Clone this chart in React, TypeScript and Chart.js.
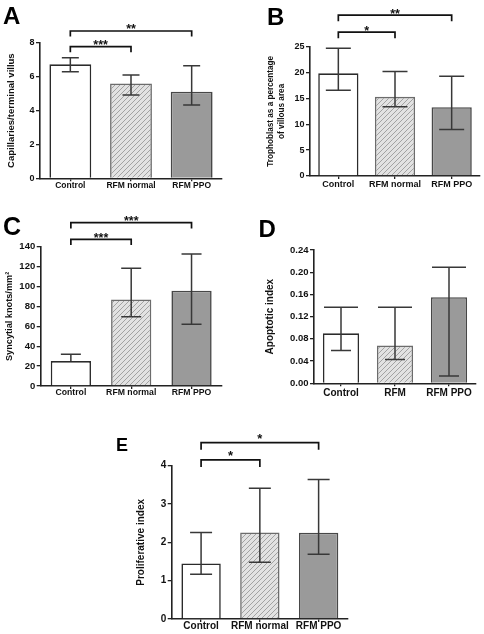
import React, { useEffect, useRef } from 'react';
import { Chart, registerables } from 'chart.js';

Chart.register(...registerables);

const FONT = "'Liberation Sans', Arial, Helvetica, sans-serif";

// ---------- data ----------
const groups = ['Control', 'RFM normal', 'RFM PPO'];
const groupsD = ['Control', 'RFM', 'RFM PPO'];

// A: capillaries / terminal villus
const meanA = [6.74, 5.61, 5.12];
const lowA = [6.3, 4.92, 4.33];
const highA = [7.13, 6.11, 6.65];
const ticksA = [0, 2, 4, 6, 8];
const sigA = [
  { from: 0, to: 1, text: '***', y: 7.78 },
  { from: 0, to: 2, text: '**', y: 8.71 },
];

// B: trophoblast %
const meanB = [19.85, 15.3, 13.3];
const lowB = [16.6, 13.4, 9.0];
const highB = [24.7, 20.2, 19.3];
const ticksB = [0, 5, 10, 15, 20, 25];
const sigB = [
  { from: 0, to: 1, text: '*', y: 27.8 },
  { from: 0, to: 2, text: '**', y: 31.1 },
];

// C: syncytial knots / mm2
const meanC = [25.1, 87.0, 95.8];
const lowC = [25.1, 69.7, 62.0];
const highC = [31.8, 118.3, 132.7];
const ticksC = [0, 20, 40, 60, 80, 100, 120, 140];
const sigC = [
  { from: 0, to: 1, text: '***', y: 147.4 },
  { from: 0, to: 2, text: '***', y: 164.1 },
];

// D: apoptotic index
const meanD = [0.09, 0.068, 0.155];
const lowD = [0.059, 0.043, 0.013];
const highD = [0.137, 0.137, 0.209];
const ticksD = [0, 0.04, 0.08, 0.12, 0.16, 0.2, 0.24];
const sigD: { from: number; to: number; text: string; y: number }[] = [];

// E: proliferative index
const meanE = [1.45, 2.26, 2.25];
const lowE = [1.165, 1.48, 1.69];
const highE = [2.26, 3.41, 3.64];
const ticksE = [0, 1, 2, 3, 4];
const sigE = [
  { from: 0, to: 1, text: '*', y: 4.15 },
  { from: 0, to: 2, text: '*', y: 4.6 },
];

type Sig = { from: number; to: number; text: string; y: number };
type PanelCfg = {
  left: number; top: number; width: number; height: number;
  yw: number; plotTop: number; plotRight: number; xh: number;
  labels: string[]; mean: number[]; low: number[]; high: number[];
  yTicks: number[]; dec: number;
  title: string | string[]; titleSize: number; titleLH: number; titlePad: number;
  xFont: number; yFont: number; xPad: number;
  letter: string; letterX: number; letterY: number; letterSize: number;
  sig: Sig[]; bracketTick: number; starSize: number; starOffset: number;
  capTop: number; capBottom: number; barPct: number;
};

const panels: PanelCfg[] = [
  {
    left: 0, top: 0, width: 242, height: 200,
    yw: 40, plotTop: 43, plotRight: 222, xh: 21.7,
    labels: groups, mean: meanA, low: lowA, high: highA, yTicks: ticksA, dec: 0,
    title: 'Capillaries/terminal villus', titleSize: 9.5, titleLH: 1.2, titlePad: 6,
    xFont: 8.5, yFont: 9, xPad: -1,
    letter: 'A', letterX: 3, letterY: 24, letterSize: 24,
    sig: sigA, bracketTick: 5.5, starSize: 12.5, starOffset: 2,
    capTop: 17, capBottom: 17, barPct: 0.69,
  },
  {
    left: 242, top: 0, width: 242, height: 200,
    yw: 68, plotTop: 46.7, plotRight: 238, xh: 24,
    labels: groups, mean: meanB, low: lowB, high: highB, yTicks: ticksB, dec: 0,
    title: ['Trophoblast as a percentage', 'of villous area'], titleSize: 8.2, titleLH: 1.42, titlePad: 22.5,
    xFont: 9, yFont: 9, xPad: 0,
    letter: 'B', letterX: 25, letterY: 25, letterSize: 24,
    sig: sigB, bracketTick: 6, starSize: 12.5, starOffset: 3,
    capTop: 25, capBottom: 25, barPct: 0.71,
  },
  {
    left: 0, top: 200, width: 242, height: 200,
    yw: 40.7, plotTop: 46.7, plotRight: 221.7, xh: 14,
    labels: groups, mean: meanC, low: lowC, high: highC, yTicks: ticksC, dec: 0,
    title: 'Syncytial knots/mm²', titleSize: 9.2, titleLH: 1.2, titlePad: 4.3,
    xFont: 8.7, yFont: 9.5, xPad: -1.5,
    letter: 'C', letterX: 3, letterY: 35, letterSize: 25,
    sig: sigC, bracketTick: 5.7, starSize: 12.5, starOffset: 2.7,
    capTop: 20, capBottom: 20, barPct: 0.667,
  },
  {
    left: 242, top: 200, width: 242, height: 200,
    yw: 72, plotTop: 50, plotRight: 234, xh: 16.7,
    labels: groupsD, mean: meanD, low: lowD, high: highD, yTicks: ticksD, dec: 2,
    title: 'Apoptotic index', titleSize: 10, titleLH: 1.2, titlePad: 22,
    xFont: 10, yFont: 9.5, xPad: 0.5,
    letter: 'D', letterX: 16.5, letterY: 36.5, letterSize: 24,
    sig: sigD, bracketTick: 6, starSize: 12.5, starOffset: 0,
    capTop: 34, capBottom: 20, barPct: 0.67,
  },
  {
    left: 100, top: 400, width: 300, height: 234,
    yw: 71.7, plotTop: 65.7, plotRight: 248, xh: 15,
    labels: groups, mean: meanE, low: lowE, high: highE, yTicks: ticksE, dec: 0,
    title: 'Proliferative index', titleSize: 10, titleLH: 1.2, titlePad: 35.7,
    xFont: 10, yFont: 10, xPad: -2,
    letter: 'E', letterX: 16, letterY: 51, letterSize: 18,
    sig: sigE, bracketTick: 7, starSize: 13, starOffset: 0.5,
    capTop: 22, capBottom: 22, barPct: 0.67,
  },
];

function makeHatch(ctx: CanvasRenderingContext2D) {
  const c = document.createElement('canvas');
  c.width = 5;
  c.height = 5;
  const g = c.getContext('2d')!;
  g.fillStyle = '#e2e2e2';
  g.fillRect(0, 0, 5, 5);
  g.strokeStyle = '#a2a2a2';
  g.lineWidth = 1;
  g.beginPath();
  g.moveTo(0, 5); g.lineTo(5, 0);
  g.moveTo(-1, 1); g.lineTo(1, -1);
  g.moveTo(4, 6); g.lineTo(6, 4);
  g.stroke();
  return ctx.createPattern(c, 'repeat')!;
}

function Panel({ cfg }: { cfg: PanelCfg }) {
  const ref = useRef<HTMLCanvasElement>(null);
  useEffect(() => {
    const canvas = ref.current!;
    const ctx0 = canvas.getContext('2d')!;
    const hatch = makeHatch(ctx0);
    const decor = {
      id: 'decor' + cfg.letter,
      afterDraw(chart: any) {
        const ctx = chart.ctx as CanvasRenderingContext2D;
        const xs = chart.scales.x;
        const ys = chart.scales.y;
        ctx.save();
        // error bars
        ctx.strokeStyle = '#383838';
        ctx.lineWidth = 1.5;
        cfg.mean.forEach((m, i) => {
          const x = xs.getPixelForValue(i);
          const yh = ys.getPixelForValue(cfg.high[i]);
          const yl = ys.getPixelForValue(cfg.low[i]);
          ctx.beginPath();
          ctx.moveTo(x, yl);
          ctx.lineTo(x, yh);
          ctx.moveTo(x - cfg.capTop / 2, yh);
          ctx.lineTo(x + cfg.capTop / 2, yh);
          if (cfg.low[i] < m) {
            ctx.moveTo(x - cfg.capBottom / 2, yl);
            ctx.lineTo(x + cfg.capBottom / 2, yl);
          }
          ctx.stroke();
        });
        // significance brackets
        ctx.strokeStyle = '#111';
        ctx.lineWidth = 1.7;
        ctx.fillStyle = '#111';
        ctx.font = `bold ${cfg.starSize}px ${FONT}`;
        ctx.textAlign = 'center';
        ctx.textBaseline = 'alphabetic';
        cfg.sig.forEach((b) => {
          const x1 = xs.getPixelForValue(b.from);
          const x2 = xs.getPixelForValue(b.to);
          const y = ys.getPixelForValue(b.y);
          ctx.beginPath();
          ctx.moveTo(x1, y + cfg.bracketTick);
          ctx.lineTo(x1, y);
          ctx.lineTo(x2, y);
          ctx.lineTo(x2, y + cfg.bracketTick);
          ctx.stroke();
          ctx.fillText(b.text, (x1 + x2) / 2, y + cfg.starOffset);
        });
        // panel letter
        ctx.font = `bold ${cfg.letterSize}px ${FONT}`;
        ctx.textAlign = 'left';
        ctx.fillStyle = '#000';
        ctx.fillText(cfg.letter, cfg.letterX, cfg.letterY);
        ctx.restore();
      },
    };
    const last = cfg.yTicks[cfg.yTicks.length - 1];
    const chart = new Chart(canvas, {
      type: 'bar',
      data: {
        labels: cfg.labels,
        datasets: [
          {
            data: cfg.mean,
            backgroundColor: ['#ffffff', hatch as any, '#9a9a9a'],
            borderColor: ['#2b2b2b', '#6c6c6c', '#474747'],
            borderWidth: 1.6,
            barPercentage: cfg.barPct,
            categoryPercentage: 1,
          },
        ],
      },
      options: {
        responsive: false,
        animation: false,
        layout: { padding: { left: 0, top: cfg.plotTop, right: cfg.width - cfg.plotRight, bottom: 0 } },
        plugins: { legend: { display: false }, tooltip: { enabled: false } },
        scales: {
          x: {
            grid: { display: true, drawOnChartArea: false, drawTicks: true, tickLength: 3, offset: false, color: '#222', lineWidth: 1.3 },
            border: { display: true, color: '#222', width: 1.6 },
            ticks: { font: { family: FONT, weight: 'bold', size: cfg.xFont }, color: '#111', padding: cfg.xPad, maxRotation: 0, autoSkip: false },
            afterFit: (s: any) => { s.height = cfg.xh; },
          },
          y: {
            min: cfg.yTicks[0],
            max: last,
            afterBuildTicks: (s: any) => { s.ticks = cfg.yTicks.map((v) => ({ value: v })); },
            grid: { drawOnChartArea: false, drawTicks: true, tickLength: 4, color: '#222', lineWidth: 1.3 },
            border: { display: true, color: '#222', width: 1.6 },
            ticks: {
              font: { family: FONT, weight: 'bold', size: cfg.yFont },
              color: '#111',
              padding: 1.5,
              callback: (v: any) => Number(v).toFixed(cfg.dec),
            },
            title: {
              display: true,
              text: cfg.title,
              color: '#111',
              font: { family: FONT, weight: 'bold', size: cfg.titleSize, lineHeight: cfg.titleLH },
              padding: { top: cfg.titlePad, bottom: 0 },
            },
            afterFit: (s: any) => { s.width = cfg.yw; },
          },
        },
      } as any,
      plugins: [decor],
    });
    return () => chart.destroy();
  }, [cfg]);
  return (
    <canvas
      ref={ref}
      width={cfg.width}
      height={cfg.height}
      style={{ position: 'absolute', left: cfg.left, top: cfg.top, width: cfg.width, height: cfg.height }}
    />
  );
}

export default function App() {
  return (
    <div style={{ position: 'absolute', left: 0, top: 0, width: 484, height: 634, background: '#ffffff', overflow: 'hidden' }}>
      {panels.map((p) => (
        <Panel key={p.letter} cfg={p} />
      ))}
    </div>
  );
}
